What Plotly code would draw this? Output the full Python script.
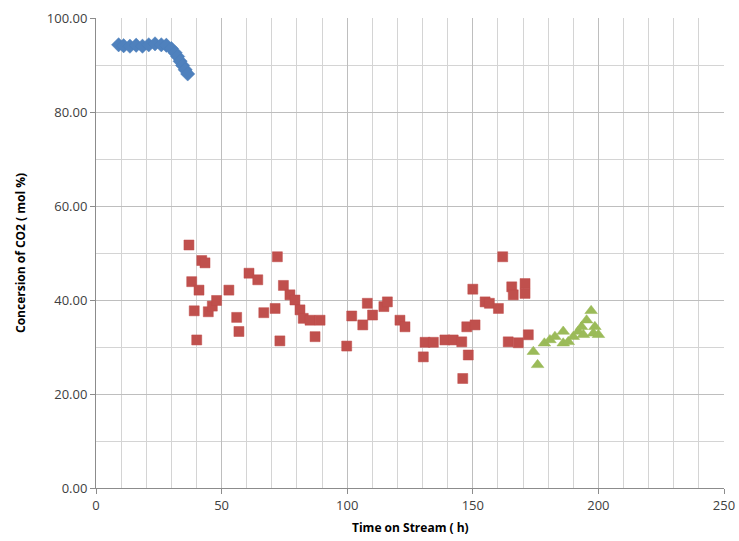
import plotly.graph_objects as go

# Series 1 (blue diamonds)
blue_x = [9, 11, 13.5, 16, 18.5, 21, 23.5, 26, 28, 30, 31.5, 32.5, 33.5, 34.5, 35.5, 36.5]
blue_y = [94.3, 94.1, 94.0, 94.2, 94.0, 94.3, 94.5, 94.3, 94.2, 93.5, 92.6, 91.8, 90.8, 89.9, 89.0, 88.1]

# Series 2 (red squares)
red_x = [37.0, 38.1, 39.1, 40.1, 41.0, 42.1, 43.4, 44.7, 46.3, 48.0, 52.9, 56.0, 56.9, 60.9, 64.4,
         66.8, 71.3, 72.2, 73.2, 74.6, 77.2, 79.2, 81.2, 82.5, 85.2, 87.2, 89.2,
         99.8, 101.8, 106.2, 108.0, 110.1, 114.6, 116.0, 121.0, 123.0,
         130.3, 131.0, 134.3, 138.9, 142.2, 145.6, 146.0, 147.6, 148.2, 150.0, 150.9,
         154.9, 156.6, 160.2, 161.9, 164.1, 165.5, 166.1, 168.1, 170.8, 170.8, 172.1]
red_y = [51.7, 43.9, 37.7, 31.5, 42.1, 48.4, 47.9, 37.5, 38.7, 39.9, 42.1, 36.3, 33.3, 45.7, 44.3,
         37.3, 38.2, 49.2, 31.3, 43.1, 41.1, 40.0, 37.9, 36.1, 35.7, 32.2, 35.7,
         30.2, 36.6, 34.7, 39.3, 36.8, 38.6, 39.6, 35.7, 34.3,
         27.9, 31.0, 31.0, 31.5, 31.5, 31.1, 23.3, 34.3, 28.3, 42.3, 34.7,
         39.6, 39.3, 38.2, 49.2, 31.1, 42.8, 41.1, 30.9, 43.5, 41.4, 32.6]

# Series 3 (green triangles)
green_x = [174.1, 175.8, 178.5, 180.7, 182.7, 186.0, 186.0, 188.0, 190.0, 192.0, 193.3, 194.0,
           195.3, 197.1, 198.0, 198.6, 200.0]
green_y = [29.0, 26.2, 30.8, 31.5, 32.2, 33.3, 30.8, 31.1, 32.2, 33.3, 34.3, 32.6,
           35.7, 37.7, 32.9, 34.3, 32.6]

fig = go.Figure()
fig.add_trace(go.Scatter(x=blue_x, y=blue_y, mode="markers",
                         marker=dict(symbol="diamond", size=11, color="#4F81BD",
                                     line=dict(width=0.5, color="#4A7EBB"))))
fig.add_trace(go.Scatter(x=red_x, y=red_y, mode="markers",
                         marker=dict(symbol="square", size=10, color="#C0504D",
                                     line=dict(width=0.5, color="#BE4B48"))))
fig.add_trace(go.Scatter(x=green_x, y=green_y, mode="markers",
                         marker=dict(symbol="triangle-up", size=11, color="#9BBB59",
                                     line=dict(width=0.5, color="#98B954"))))

axis_font = dict(family="Open Sans, Liberation Sans, sans-serif", size=13, color="#404040")
title_font = dict(family="Open Sans, Liberation Sans, sans-serif", size=12, color="#000000")

fig.update_layout(
    width=739, height=541,
    margin=dict(l=96, r=15, t=18, b=53),
    plot_bgcolor="white", paper_bgcolor="white",
    showlegend=False,
    xaxis=dict(range=[0, 250], tick0=0, dtick=50, showgrid=True, gridcolor="#BEBEBE", gridwidth=1,
               minor=dict(dtick=10, showgrid=True, gridcolor="#D4D4D4"),
               showline=True, linecolor="#8C8C8C", linewidth=1,
               ticks="outside", ticklen=5, tickcolor="#8C8C8C",
               tickfont=axis_font, zeroline=False, automargin=False),
    yaxis=dict(range=[0, 100], tick0=0, dtick=20, showgrid=True, gridcolor="#BEBEBE", gridwidth=1,
               minor=dict(dtick=10, showgrid=True, gridcolor="#D4D4D4"),
               showline=True, linecolor="#8C8C8C", linewidth=1,
               ticks="outside", ticklen=5, tickcolor="#8C8C8C",
               tickformat=".2f", tickfont=axis_font, zeroline=False, automargin=False),
    annotations=[
        dict(text="<b>Time on Stream ( h)</b>", xref="paper", yref="paper", x=0.5, y=0,
             yshift=-39, xanchor="center", yanchor="middle", showarrow=False, font=title_font),
        dict(text="<b>Concersion of CO2 ( mol %)</b>", xref="paper", yref="paper", x=0, y=0.5,
             xshift=-76, xanchor="center", yanchor="middle", textangle=-90, showarrow=False,
             font=title_font),
    ],
)

fig.write_html("out.html",
               config={"displayModeBar": False},
               post_script="document.body.style.margin='0';document.body.style.overflow='hidden';")
